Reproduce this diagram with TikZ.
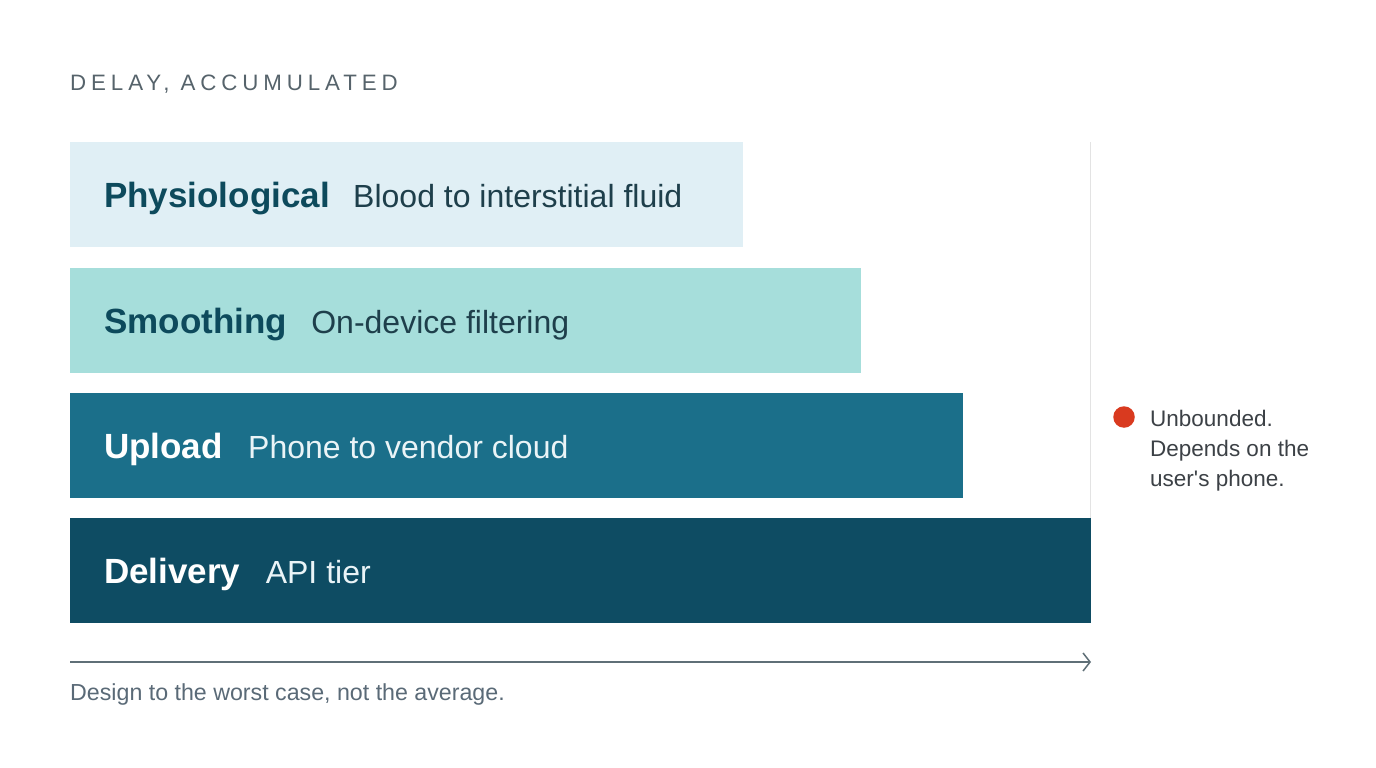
\documentclass[tikz,border=0pt]{standalone}
\usepackage{fontspec}
\setmainfont{Liberation Sans}
\newfontfamily\titlefont[LetterSpace=22]{Liberation Sans}
\newfontfamily\notefont[Ligatures=TeXOff]{Liberation Sans}
\usetikzlibrary{arrows.meta}
\definecolor{barA}{HTML}{E0EFF5}
\definecolor{barB}{HTML}{A6DEDB}
\definecolor{barC}{HTML}{1B6F8A}
\definecolor{barD}{HTML}{0E4C63}
\definecolor{labdark}{HTML}{0D4A5C}
\definecolor{descdark}{HTML}{1E3F4B}
\definecolor{desclight}{HTML}{EAF4F7}
\definecolor{titlegrey}{HTML}{56636B}
\definecolor{notegrey}{HTML}{3C4146}
\definecolor{capgrey}{HTML}{5A6A77}
\definecolor{axisgrey}{HTML}{5F6F77}
\definecolor{vline}{HTML}{E3E3E3}
\definecolor{dotred}{HTML}{D93A1F}
\begin{document}
\begin{tikzpicture}[x=1pt,y=-1pt,
  bar/.style={rectangle, draw=none, inner sep=0pt, outer sep=0pt, anchor=north west, minimum height=105pt},
  lab/.style={inner sep=0pt, anchor=base west, font=\bfseries\fontsize{35}{42}\selectfont},
  desc/.style={inner sep=0pt, anchor=base west, font=\fontsize{32}{38}\selectfont},
  note/.style={inner sep=0pt, anchor=base west, text=notegrey, font=\notefont\fontsize{22.5}{30}\selectfont}
]
\useasboundingbox (0,0) rectangle (1376,768);
\fill[white] (0,0) rectangle (1376,768);

% title
\node[inner sep=0pt, anchor=base west, text=titlegrey, font=\titlefont\fontsize{22.3}{26}\selectfont] (title) at (70,90) {DELAY, ACCUMULATED};

% bars
\node[bar, fill=barA, minimum width=673pt] (b1) at (70,142) {};
\node[bar, fill=barB, minimum width=791pt] (b2) at (70,268) {};
\node[bar, fill=barC, minimum width=893pt] (b3) at (70,393) {};
\node[bar, fill=barD, minimum width=1021pt] (b4) at (70,518) {};

% vertical limit line
\coordinate (vtop) at (b4.north east |- b1.north);
\draw[vline, line width=1.2pt] ([xshift=-0.6pt]vtop) -- ([xshift=-0.6pt]b4.north east);

% labels
\node[lab, text=labdark] (l1) at ([xshift=34pt, yshift=-12.5pt]b1.west) {Physiological};
\node[desc, text=descdark] (d1) at ([xshift=23pt]l1.base east) {Blood to interstitial fluid};
\node[lab, text=labdark] (l2) at ([xshift=34pt, yshift=-12.5pt]b2.west) {Smoothing};
\node[desc, text=descdark] (d2) at ([xshift=24pt]l2.base east) {On-device filtering};
\node[lab, text=white] (l3) at ([xshift=34pt, yshift=-12.5pt]b3.west) {Upload};
\node[desc, text=desclight] (d3) at ([xshift=25pt]l3.base east) {Phone to vendor cloud};
\node[lab, text=white] (l4) at ([xshift=34pt, yshift=-12.5pt]b4.west) {Delivery};
\node[desc, text=desclight] (d4) at ([xshift=25pt]l4.base east) {API tier};

% note
\node[circle, fill=dotred, minimum size=21.5pt, inner sep=0pt] (dot) at (1124,417) {};
\node[note] (n1) at (1150,426) {Unbounded.};
\node[note] (n2) at ([yshift=-30pt]n1.base west) {Depends on the};
\node[note] (n3) at ([yshift=-30pt]n2.base west) {user's phone.};

% axis
\coordinate (a0) at (70,662);
\coordinate (a1) at (1091,662);
\draw[axisgrey, line width=1.5pt, -{Straight Barb[length=7pt, width=18pt, line width=1.5pt]}] (a0) -- (a1);

% caption
\node[inner sep=0pt, anchor=base west, text=capgrey, font=\fontsize{23.2}{27}\selectfont] (cap) at (70,700) {Design to the worst case, not the average.};
\end{tikzpicture}
\end{document}
